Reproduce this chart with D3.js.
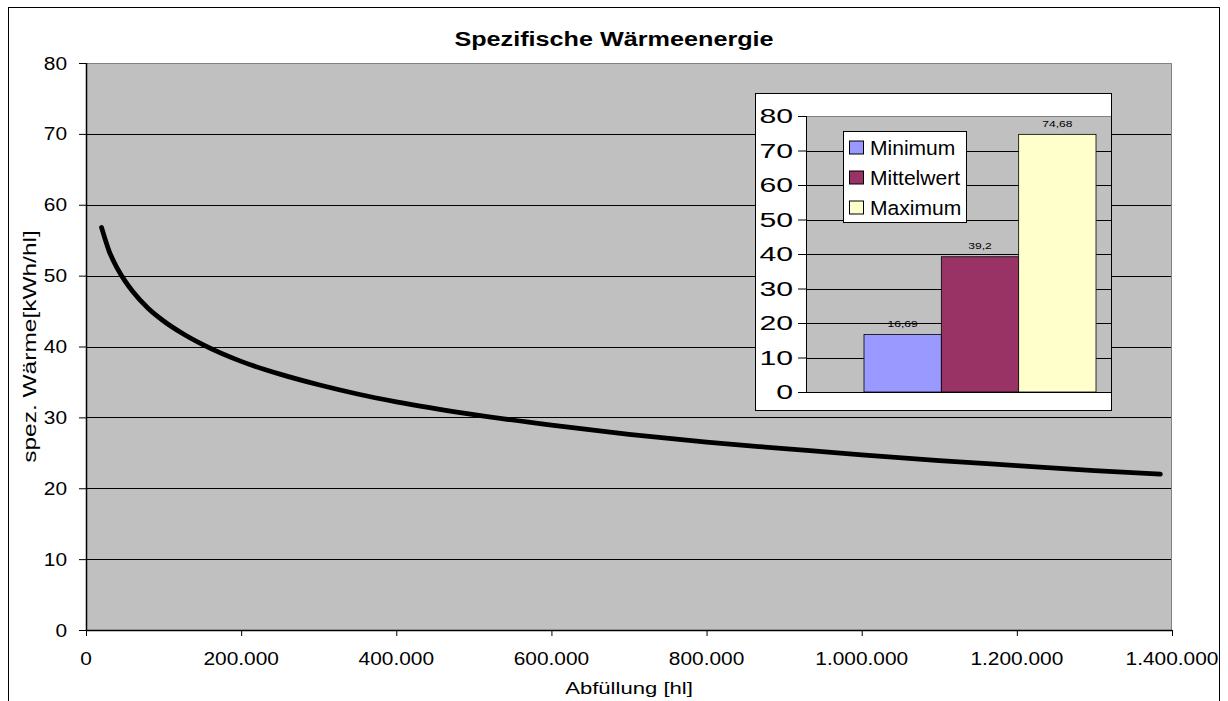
<!DOCTYPE html>
<html>
<head>
<meta charset="utf-8">
<script src="https://cdn.jsdelivr.net/npm/d3@7"></script>
<style>
  html, body { margin: 0; padding: 0; background: #fff; }
  svg { display: block; font-family: "Liberation Sans", Arial, sans-serif; }
</style>
</head>
<body>
<svg id="chart" width="1228" height="701"></svg>
<script>
// Abfüllmenge [hl] und zugehörige spezifische Wärme [kWh/hl]
const abfuellung = [20000, 30000, 40000, 50000, 60000, 80000, 100000, 125000, 150000,
  200000, 250000, 300000, 350000, 400000, 500000, 600000, 700000, 800000, 900000,
  1000000, 1100000, 1200000, 1300000, 1385000];
const spezWaerme = [56.8, 53.4, 51.1, 49.3, 47.8, 45.4, 43.6, 41.8, 40.3,
  37.9, 36.1, 34.6, 33.3, 32.2, 30.4, 28.9, 27.6, 26.5, 25.6,
  24.7, 23.9, 23.2, 22.5, 22.0];

const yTicks = [0, 10, 20, 30, 40, 50, 60, 70, 80];
const xTicks = [0, 200000, 400000, 600000, 800000, 1000000, 1200000, 1400000];

// Kennwerte für das Säulendiagramm
const kennwerte = ["Minimum", "Mittelwert", "Maximum"];
const kennwertWerte = [16.69, 39.2, 74.68];
const kennwertFarben = ["#9999FF", "#993366", "#FFFFCC"];
const insetTicks = [0, 10, 20, 30, 40, 50, 60, 70, 80];

const de = d3.formatLocale({ decimal: ",", thousands: ".", grouping: [3], currency: ["", " €"] });
const fmtThousands = de.format(",d");
const fmtValue = v => String(v).replace(".", ",");

const svg = d3.select("#chart");

// horizontal text with a slight horizontal stretch
function label(parent, x, y, text, opts) {
  const o = Object.assign({ size: 18, sx: 1.16, anchor: "middle", weight: "normal" }, opts || {});
  const g = parent.append("g").attr("transform", `translate(${x},${y}) scale(${o.sx},1)`);
  g.append("text")
    .attr("text-anchor", o.anchor)
    .attr("font-size", o.size)
    .attr("font-weight", o.weight)
    .attr("fill", "#000")
    .text(text);
  return g;
}

// outer frame
svg.append("rect")
  .attr("x", 8.5).attr("y", 7.5)
  .attr("width", 1211).attr("height", 720)
  .attr("fill", "#fff").attr("stroke", "#000").attr("stroke-width", 1);

// main plot
const plot = { left: 86, right: 1172, top: 63, bottom: 630 };
const x = d3.scaleLinear().domain([0, 1400000]).range([plot.left, plot.right]);
const y = d3.scaleLinear().domain([0, 80]).range([plot.bottom, plot.top]);

svg.append("rect")
  .attr("x", plot.left).attr("y", plot.top)
  .attr("width", plot.right - plot.left).attr("height", plot.bottom - plot.top)
  .attr("fill", "#C0C0C0");

// horizontal gridlines
svg.append("g")
  .selectAll("line")
  .data(yTicks.filter(t => t > 0 && t < 80))
  .join("line")
  .attr("x1", plot.left).attr("x2", plot.right)
  .attr("y1", d => Math.round(y(d)) + 0.5).attr("y2", d => Math.round(y(d)) + 0.5)
  .attr("stroke", "#000").attr("stroke-width", 1);

// plot border (top, right)
svg.append("path")
  .attr("d", `M${plot.left},${plot.top + 0.5}H${plot.right - 0.5}V${plot.bottom}`)
  .attr("fill", "none").attr("stroke", "#808080").attr("stroke-width", 1);

// y axis
const yAxis = svg.append("g").attr("transform", `translate(${plot.left},0)`)
  .call(d3.axisLeft(y).tickValues(yTicks).tickSize(7).tickFormat(""));
yAxis.select(".domain").attr("stroke", "#000").attr("stroke-width", 1.5)
  .attr("d", `M0.5,${plot.top}V${plot.bottom}`);
yAxis.selectAll(".tick line").attr("stroke", "#000");
yTicks.forEach(t => label(svg, 67, y(t) + 6.5, String(t), { anchor: "end" }));

// x axis
const xAxis = svg.append("g").attr("transform", `translate(0,${plot.bottom})`)
  .call(d3.axisBottom(x).tickValues(xTicks).tickSize(6).tickFormat(""));
xAxis.select(".domain").attr("stroke", "#000").attr("stroke-width", 1.5)
  .attr("d", `M${plot.left},0.5H${plot.right}`);
xAxis.selectAll(".tick line").attr("stroke", "#000");
xTicks.forEach(t => label(svg, x(t), 665, fmtThousands(t)));

// axis titles
label(svg, (plot.left + plot.right) / 2, 694, "Abfüllung [hl]", { size: 17, sx: 1.3 });
const yTitle = svg.append("g")
  .attr("transform", `translate(36,${(plot.top + plot.bottom) / 2}) rotate(-90) scale(1.4,1)`);
yTitle.append("text").attr("text-anchor", "middle").attr("font-size", 17.5)
  .text("spez. Wärme[kWh/hl]");

// chart title
label(svg, 614, 46, "Spezifische Wärmeenergie", { size: 21, sx: 1.2, weight: "bold" });

// curve
const pts = abfuellung.map((a, i) => [a, spezWaerme[i]]);
svg.append("path")
  .datum(pts)
  .attr("fill", "none")
  .attr("stroke", "#000")
  .attr("stroke-width", 4.8)
  .attr("stroke-linecap", "round")
  .attr("stroke-linejoin", "round")
  .attr("d", d3.line().x(d => x(d[0])).y(d => y(d[1])).curve(d3.curveMonotoneX));

// ---- inset column chart ----
const box = { left: 755, right: 1112, top: 93, bottom: 411 };
const ip = { left: 806, right: 1154, top: 116, bottom: 392 };

svg.append("defs").append("clipPath").attr("id", "insetClip")
  .append("rect").attr("x", box.left).attr("y", box.top)
  .attr("width", box.right - box.left).attr("height", box.bottom - box.top);

const inset = svg.append("g").attr("clip-path", "url(#insetClip)");
inset.append("rect")
  .attr("x", box.left).attr("y", box.top)
  .attr("width", box.right - box.left).attr("height", box.bottom - box.top)
  .attr("fill", "#fff");

const iy = d3.scaleLinear().domain([0, 80]).range([ip.bottom, ip.top]);
const ix = d3.scaleBand().domain(kennwerte).range([ip.left, ip.right])
  .paddingInner(0).paddingOuter(0.75);

inset.append("rect")
  .attr("x", ip.left).attr("y", ip.top)
  .attr("width", ip.right - ip.left).attr("height", ip.bottom - ip.top)
  .attr("fill", "#C0C0C0");

inset.append("g").selectAll("line")
  .data(insetTicks.filter(t => t > 0 && t < 80))
  .join("line")
  .attr("x1", ip.left).attr("x2", ip.right)
  .attr("y1", d => Math.round(iy(d)) + 0.5).attr("y2", d => Math.round(iy(d)) + 0.5)
  .attr("stroke", "#000");

inset.append("line")
  .attr("x1", ip.left).attr("x2", ip.right)
  .attr("y1", ip.top + 0.5).attr("y2", ip.top + 0.5)
  .attr("stroke", "#808080");

const iyAxis = inset.append("g").attr("transform", `translate(${ip.left},0)`)
  .call(d3.axisLeft(iy).tickValues(insetTicks).tickSize(8).tickFormat(""));
iyAxis.select(".domain").attr("stroke", "#000").attr("d", `M0.5,${ip.top}V${ip.bottom}`);
iyAxis.selectAll(".tick line").attr("stroke", "#000");
insetTicks.forEach(t => label(inset, 793, iy(t) + 7, String(t), { size: 19.5, sx: 1.55, anchor: "end" }));

inset.append("g").selectAll("rect")
  .data(kennwerte)
  .join("rect")
  .attr("x", d => ix(d)).attr("width", ix.bandwidth())
  .attr("y", (d, i) => iy(kennwertWerte[i]))
  .attr("height", (d, i) => iy(0) - iy(kennwertWerte[i]))
  .attr("fill", (d, i) => kennwertFarben[i])
  .attr("stroke", "#000").attr("stroke-width", 0.8);

kennwerte.forEach((k, i) =>
  label(inset, ix(k) + ix.bandwidth() / 2, iy(kennwertWerte[i]) - 7.5, fmtValue(kennwertWerte[i]),
    { size: 9.5, sx: 1.27 }));

inset.append("line")
  .attr("x1", ip.left).attr("x2", ip.right)
  .attr("y1", ip.bottom + 0.5).attr("y2", ip.bottom + 0.5)
  .attr("stroke", "#000");

// legend
const lg = { left: 843.5, top: 131.5, width: 123, height: 91 };
inset.append("rect")
  .attr("x", lg.left).attr("y", lg.top).attr("width", lg.width).attr("height", lg.height)
  .attr("fill", "#fff").attr("stroke", "#000");
kennwerte.forEach((k, i) => {
  const cy = lg.top + 16 + i * 30;
  inset.append("rect")
    .attr("x", 849.5).attr("y", cy - 6.5).attr("width", 14).attr("height", 13)
    .attr("fill", kennwertFarben[i]).attr("stroke", "#000");
  label(inset, 870, cy + 7, k, { size: 19.5, sx: 1.08, anchor: "start" });
});

// inset frame
svg.append("rect")
  .attr("x", box.left + 0.5).attr("y", box.top + 0.5)
  .attr("width", box.right - box.left - 1).attr("height", box.bottom - box.top - 1)
  .attr("fill", "none").attr("stroke", "#000");
</script>
</body>
</html>
